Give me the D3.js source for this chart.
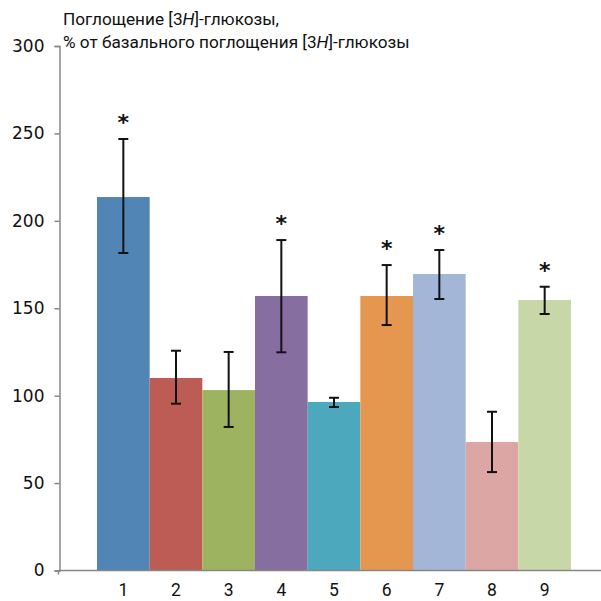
<!DOCTYPE html>
<html><head><meta charset="utf-8">
<script src="https://cdn.jsdelivr.net/npm/d3@7"></script>
<style>body{margin:0;background:#fff}</style>
</head><body>
<svg id="c" width="601" height="601"></svg>
<script>
const categories = ["1","2","3","4","5","6","7","8","9"];
const values = [213.6, 110.1, 103.2, 157.0, 96.4, 157.0, 169.6, 73.5, 154.7];
const errHigh = [246.8, 125.7, 125.0, 189.0, 98.8, 174.7, 183.3, 90.8, 162.3];
const errLow = [181.6, 95.4, 82.1, 124.8, 93.5, 140.4, 155.3, 56.3, 146.7];
const significant = [true, false, false, true, false, true, true, false, true];
const yTicks = [0, 50, 100, 150, 200, 250, 300];
const colors = ["#5185b5","#bd5c55","#9db35f","#866ea0","#4ba8bd","#e5974f","#a3b6d7","#dba6a4","#c8d7a7"];

const svg = d3.select("#c");
const y = d3.scaleLinear().domain([0, 300]).range([570.5, 46]);
const x = d3.scaleBand().domain(categories).range([97, 571]).padding(0);
const axisColor = "#868686";

// bars
svg.selectAll("rect.bar").data(categories).join("rect")
  .attr("x", d => x(d)).attr("width", x.bandwidth())
  .attr("y", (d,i) => y(values[i])).attr("height", (d,i) => y(0) - y(values[i]))
  .attr("fill", (d,i) => colors[i]);

// axes
const yAxis = d3.axisLeft(y).tickValues(yTicks).tickSize(5).tickPadding(10);
const gy = svg.append("g").attr("transform", "translate(59.5,0)").call(yAxis);
gy.select(".domain").attr("stroke", axisColor).attr("stroke-width", 1.5);
gy.selectAll(".tick line").attr("stroke", axisColor).attr("stroke-width", 1.5);
gy.selectAll(".tick text").attr("font-family", "DejaVu Sans").attr("font-size", 17).attr("fill", "#111");

svg.append("line").attr("x1", 58.5).attr("x2", 601).attr("y1", y(0)).attr("y2", y(0))
  .attr("stroke", axisColor).attr("stroke-width", 1.5);
svg.append("line").attr("x1", 58.5).attr("x2", 58.5).attr("y1", y(0)).attr("y2", y(0)+4)
  .attr("stroke", axisColor).attr("stroke-width", 1.5);

svg.selectAll("text.xl").data(categories).join("text")
  .attr("x", d => x(d) + x.bandwidth()/2).attr("y", 596)
  .attr("text-anchor", "middle").attr("font-family", "Roboto").attr("font-size", 17.5)
  .attr("fill", "#111").text(d => d);

// error bars
const eg = svg.append("g").attr("stroke", "#111").attr("stroke-width", 2);
categories.forEach((c, i) => {
  const cx = x(c) + x.bandwidth()/2;
  eg.append("line").attr("x1", cx).attr("x2", cx).attr("y1", y(errHigh[i])).attr("y2", y(errLow[i]));
  eg.append("line").attr("x1", cx-5).attr("x2", cx+5).attr("y1", y(errHigh[i])).attr("y2", y(errHigh[i]));
  eg.append("line").attr("x1", cx-5).attr("x2", cx+5).attr("y1", y(errLow[i])).attr("y2", y(errLow[i]));
  if (significant[i]) {
    svg.append("text").attr("x", cx).attr("y", y(errHigh[i]) - 9)
      .attr("text-anchor", "middle").attr("font-family", "DejaVu Sans").attr("font-weight", "bold").attr("font-size", 22)
      .attr("fill", "#111").text("*");
  }
});

// title
const t = svg.append("text").attr("font-family", "Roboto").attr("font-size", 17.2).attr("fill", "#111");
const l1 = t.append("tspan").attr("x", 63).attr("y", 25);
l1.append("tspan").text("Поглощение [3");
l1.append("tspan").attr("font-style", "italic").text("H");
l1.append("tspan").text("]-глюкозы,");
const l2 = t.append("tspan").attr("x", 63).attr("y", 48);
l2.append("tspan").text("% от базального поглощения [3");
l2.append("tspan").attr("font-style", "italic").text("H");
l2.append("tspan").text("]-глюкозы");
</script>
</body></html>
